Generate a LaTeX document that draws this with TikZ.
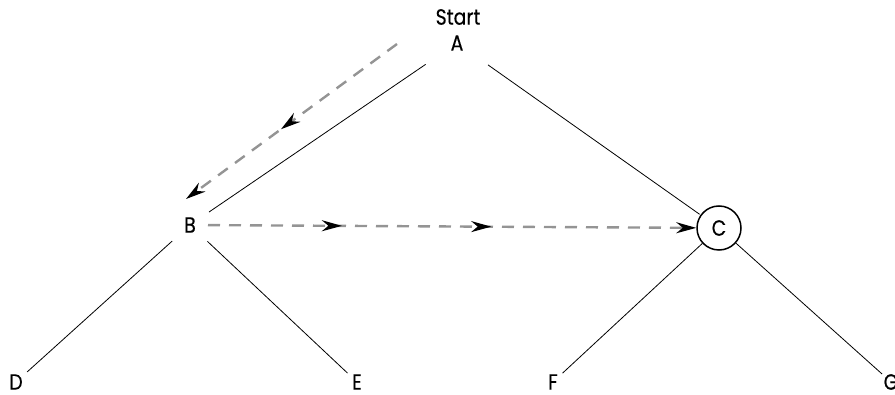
\documentclass[tikz,border=0pt]{standalone}
\usepackage{fontspec}
\setmainfont{Poppins}[FakeBold=0.3,FakeStretch=0.86]
\usetikzlibrary{arrows.meta,decorations.markings}
\begin{document}
\begin{tikzpicture}[x=1pt,y=-1pt,
  lbl/.style={inner sep=0pt,font=\fontsize{22}{23}\selectfont},
  edge/.style={draw=black,line width=0.8pt},
  walk/.style={draw=black!42,line width=2.4pt,dash pattern=on 12pt off 9pt},
  tipk/.style={-{Stealth[black,length=20pt,width=11pt]}},
  midtip/.style={postaction={decorate},decoration={markings,
     mark=at position #1 with {\arrow{Stealth[black,length=20pt,width=11pt]}}}},
  midtwo/.style 2 args={postaction={decorate},decoration={markings,
     mark=at position #1 with {\arrow{Stealth[black,length=20pt,width=11pt]}},
     mark=at position #2 with {\arrow{Stealth[black,length=20pt,width=11pt]}}}}
]
\useasboundingbox (0,0) rectangle (895,395);
\clip (0,0) rectangle (895,395);
\node[lbl] (S) at (458,17) {Start};
\node[lbl] (A) at (457,43) {A};
\node[lbl] (B) at (190,225) {B};
\node[circle,draw,line width=1.5pt,minimum size=44pt,inner sep=0pt,font=\fontsize{22}{23}\selectfont] (C) at (719,228) {C};
\node[lbl] (D) at (16,382) {D};
\node[lbl] (E) at (357,382) {E};
\node[lbl] (F) at (553,382) {F};
\node[lbl] (G) at (891,382) {G};
% tree edges
\path[edge,shorten <=38pt,shorten >=23pt] (A.center) -- (B.center);
\path[edge,shorten <=38pt,shorten >=1pt] (A.center) -- (C);
\path[edge,shorten <=24pt,shorten >=15pt] (B.center) -- (D.center);
\path[edge,shorten <=24pt,shorten >=13pt] (B.center) -- (E.center);
\path[edge,shorten >=13pt] (C) -- (F.center);
\path[edge,shorten >=12pt] (C) -- (G.center);
% traversal
\coordinate (w1) at (397,44);
\coordinate (w2) at (186,199);
\draw[walk,tipk,midtip=0.55] (w1) -- (w2);
\draw[walk,tipk,midtwo={0.30}{0.595},shorten <=18pt] (B.center) -- (C);
\end{tikzpicture}
\end{document}
